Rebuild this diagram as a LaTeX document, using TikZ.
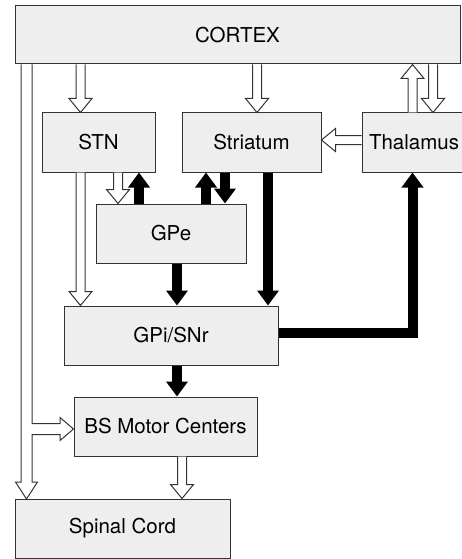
\documentclass[tikz,border=0pt]{standalone}
\usepackage{fontspec}
\setmainfont{TeX Gyre Heros}
\usetikzlibrary{arrows.meta,calc}
\definecolor{boxfill}{HTML}{EEEEEE}
\definecolor{boxline}{HTML}{333333}
\newcommand\hollowarrow[2]{%
  \draw[hollowpoly] let \p1=(#1), \p2=(#2),
    \n1={atan2(\y2-\y1,\x2-\x1)}, \n2={veclen(\x2-\x1,\y2-\y1)} in
    [shift={(\p1)}, rotate=\n1]
    (0,-4.5) -- (\n2-14,-4.5) -- (\n2-14,-11.5) -- (\n2,0)
    -- (\n2-14,11.5) -- (\n2-14,4.5) -- (0,4.5);}
\begin{document}
\begin{tikzpicture}[x=1pt,y=-1pt,
  box/.style={draw=boxline, fill=boxfill, line width=1pt, inner sep=0pt,
    font=\fontsize{20.5}{24}\selectfont},
  solidarr/.style={line width=10pt, black, line join=miter,
    -{Triangle[length=15pt, width=21pt]}},
  hollowpoly/.style={draw=boxline, fill=white, line width=1pt, line join=miter}]
\useasboundingbox (0,0) rectangle (462,559);
% boxes
\node[box, minimum width=445pt, minimum height=58pt] (cortex) at (237.5,35) {CORTEX};
\node[box, minimum width=113pt, minimum height=59pt] (stn) at (98.5,142.5) {STN};
\node[box, minimum width=139pt, minimum height=59pt] (striatum) at (251.5,142.5) {Striatum};
\node[box, minimum width=104pt, minimum height=59pt] (thal) at (414,142.5) {Thalamus};
\node[box, minimum width=150pt, minimum height=59pt] (gpe) at (171,233.5) {GPe};
\node[box, minimum width=214pt, minimum height=59pt] (gpi) at (171,335.5) {GPi/SNr};
\node[box, minimum width=183pt, minimum height=59pt] (bs) at (165.5,426.5) {BS Motor Centers};
\node[box, minimum width=215pt, minimum height=59pt] (spinal) at (122.5,528.5) {Spinal Cord};
% x positions of connectors
\coordinate (xa) at (80.5,0);
\coordinate (xb) at (118,0);
\coordinate (xc) at (139,0);
\coordinate (xd) at (206,0);
\coordinate (xe) at (225,0);
\coordinate (xf) at (257,0);
\coordinate (xg) at (268,0);
\coordinate (xh) at (177,0);
\coordinate (xi) at (182,0);
\coordinate (xj) at (412.5,0);
\coordinate (xk) at (433,0);
\coordinate (ya) at (0,140);
\coordinate (yb) at (0,333);
% hollow (excitatory) connectors
\hollowarrow{xa |- cortex.south}{xa |- stn.north}
\hollowarrow{xf |- cortex.south}{xf |- striatum.north}
\hollowarrow{xj |- thal.north}{xj |- cortex.south}
\hollowarrow{xk |- cortex.south}{xk |- thal.north}
\hollowarrow{ya -| thal.west}{ya -| striatum.east}
\hollowarrow{xa |- stn.south}{xa |- gpi.north}
\hollowarrow{xb |- stn.south}{xb |- gpe.north}
\hollowarrow{xi |- bs.south}{xi |- spinal.north}
% branched connector from cortex to BS motor centers and spinal cord
\coordinate (ctl) at (21,0);
\coordinate (ctr) at (32,0);
\coordinate (bsin) at (0,429);
\draw[hollowpoly] (ctl |- cortex.south) -- (21,482) -- (15.5,482) -- (26.5,499)
  -- (37.5,482) -- (32,482) -- (32,434.5) -- (60,434.5) -- (60,440.5)
  -- (bsin -| bs.west) -- (60,417.5) -- (60,423.5) -- (32,423.5) -- (ctr |- cortex.south);
% solid (inhibitory) connectors
\draw[solidarr] (xc |- gpe.north) -- (xc |- stn.south);
\draw[solidarr] (xd |- gpe.north) -- (xd |- striatum.south);
\draw[solidarr] (xe |- striatum.south) -- (xe |- gpe.north);
\draw[solidarr] (xg |- striatum.south) -- (xg |- gpi.north);
\draw[solidarr] (xh |- gpe.south) -- (xh |- gpi.north);
\draw[solidarr] (xh |- gpi.south) -- (xh |- bs.north);
\draw[solidarr] (yb -| gpi.east) -| (thal.south -| xj);
\end{tikzpicture}
\end{document}
